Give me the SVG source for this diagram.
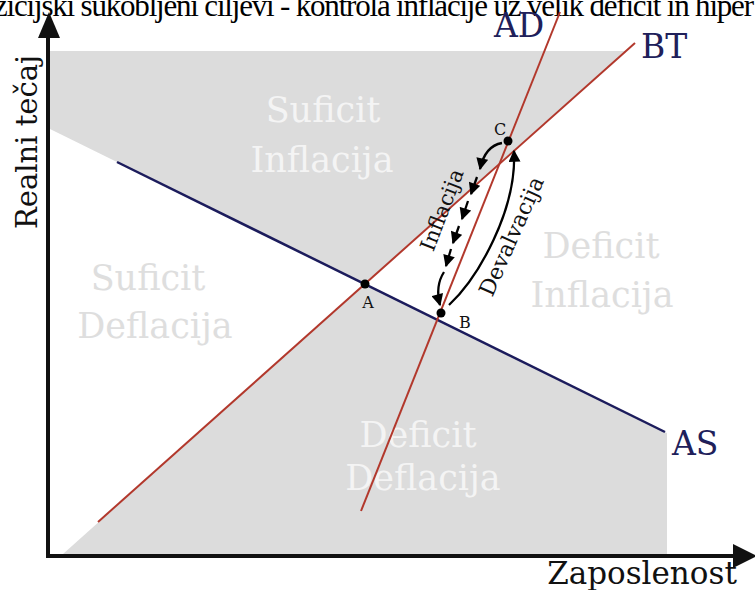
<svg xmlns="http://www.w3.org/2000/svg" width="755" height="590" viewBox="0 0 755 590">
<defs>
<style>
.zone{fill:#dcdcdc;stroke:none}
.red{stroke:#b2382c;stroke-width:2;fill:none}
.navy{stroke:#1c1c5c;stroke-width:2.5;fill:none}
.ax{stroke:#111;stroke-width:4;fill:none}
.arr{stroke:#000;stroke-width:2.3;fill:none;marker-end:url(#ah)}
.lbl{font-family:"DejaVu Serif",serif;text-anchor:middle}
.inz{fill:#f4f4f4;font-size:35px}
.outz{fill:#dedede;font-size:35px}
.curve{fill:#20205a;font-size:33px;font-family:"DejaVu Serif",serif}
.pt{fill:#000}
.ptl{font-family:"DejaVu Serif",serif;font-size:16px;fill:#111;text-anchor:middle}
</style>
<marker id="ah" viewBox="0 0 10 10" refX="9" refY="5" markerWidth="13" markerHeight="12" markerUnits="userSpaceOnUse" orient="auto">
<path d="M0,0 L10,5 L0,10 z" fill="#000"/>
</marker>
</defs>
<rect width="755" height="590" fill="#fff"/>
<g id="regions">
<polygon class="zone" points="50,51 626,51 364.7,284.1 50,129"/>
<polygon class="zone" points="364.7,284.1 667,433 667,554 63,554"/>
</g>
<text x="-6" y="16" font-family="'Liberation Serif',serif" font-size="31" fill="#000" textLength="760" lengthAdjust="spacing">zicijski sukobljeni ciljevi - kontrola inflacije uz velik deficit in hiper</text>
<g id="zone-labels">
<text class="lbl inz" x="323" y="122">Suficit</text>
<text class="lbl inz" x="322" y="172">Inflacija</text>
<text class="lbl outz" x="148" y="290">Suficit</text>
<text class="lbl outz" x="155" y="338">Deflacija</text>
<text class="lbl outz" x="601" y="258">Deficit</text>
<text class="lbl outz" x="602" y="307">Inflacija</text>
<text class="lbl inz" x="418" y="447">Deficit</text>
<text class="lbl inz" x="423" y="490">Deflacija</text>
</g>
<g id="connectors">
<line class="navy" x1="117" y1="162" x2="665" y2="432"/>
<line class="red" x1="98" y1="522" x2="635" y2="43"/>
<line class="red" x1="361" y1="511" x2="560" y2="12"/>
<path class="arr" d="M502,143 Q485,146 480,169"/>
<path class="arr" d="M477,177 L471,194"/>
<path class="arr" d="M468,201 L462,219"/>
<path class="arr" d="M459,226 L453,243"/>
<path class="arr" d="M451,249 L446,266"/>
<path class="arr" d="M444,272 Q435,286 440,305"/>
<path class="arr" d="M449,305 C478,278 517,210 514,151"/>
</g>
<g id="axes">
<line class="ax" x1="48" y1="558" x2="48" y2="36"/>
<polygon points="49,12 38,38 60,38" fill="#111"/>
<line class="ax" x1="46" y1="556" x2="735" y2="556"/>
<polygon points="757,556 733,544 733,568" fill="#111"/>
<text class="lbl" font-size="29" fill="#111" transform="translate(37,142) rotate(-90)">Realni tečaj</text>
<text class="lbl" font-size="31" fill="#111" x="642" y="584">Zaposlenost</text>
</g>
<g id="curve-labels">
<text class="curve" x="494" y="37">AD</text>
<text class="curve" x="641" y="58">BT</text>
<text class="curve" x="672" y="455">AS</text>
</g>
<g id="point-A"><circle class="pt" cx="365" cy="284" r="4.5"/><text class="ptl" x="368" y="308">A</text></g>
<g id="point-B"><circle class="pt" cx="441" cy="313" r="4.5"/><text class="ptl" x="465" y="328">B</text></g>
<g id="point-C"><circle class="pt" cx="508" cy="141" r="4.5"/><text class="ptl" x="500" y="135">C</text></g>
<g id="arrow-labels">
<text class="lbl" font-size="21" fill="#111" transform="translate(442,210) rotate(-69)" y="7">Inflacija</text>
<text class="lbl" font-size="22" fill="#111" transform="translate(511,236) rotate(-66)" y="8">Devalvacija</text>
</g>
</svg>
